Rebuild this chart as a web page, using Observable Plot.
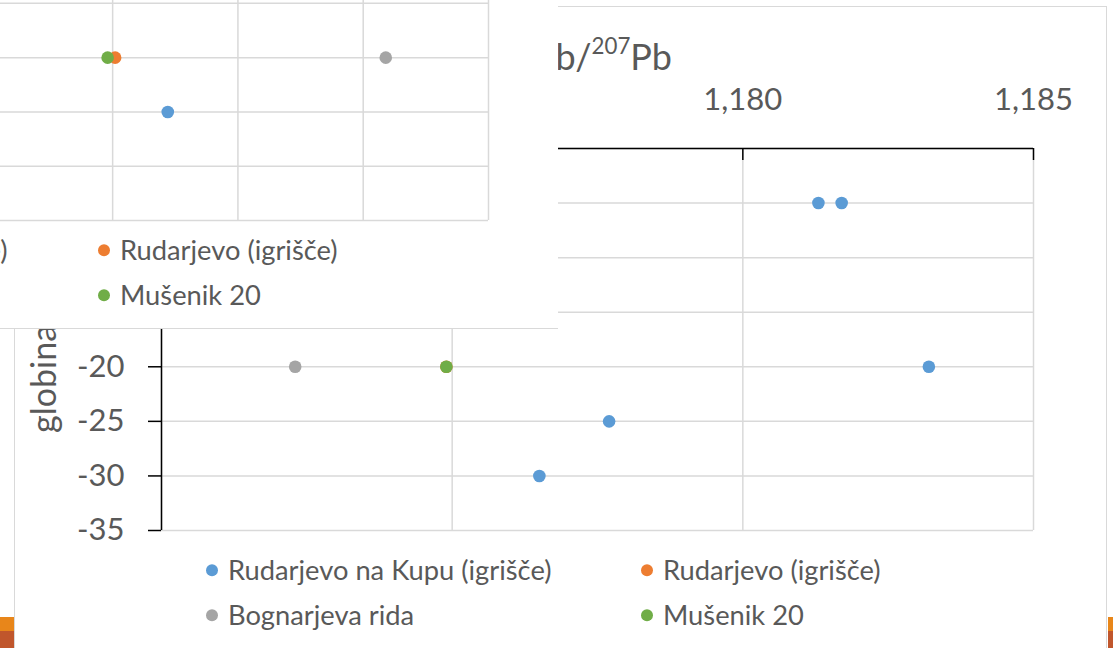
<!DOCTYPE html>
<html><head><meta charset="utf-8">
<script src="https://cdn.jsdelivr.net/npm/d3@7"></script>
<script src="https://cdn.jsdelivr.net/npm/@observablehq/plot@0.6"></script>
<style>
html,body{margin:0;padding:0;background:#fff;}
#page{position:relative;width:1113px;height:648px;overflow:hidden;font-family:Lato,"Open Sans",sans-serif;color:#595959;}
.abs{position:absolute;}
.legend-item{position:absolute;display:flex;align-items:center;white-space:nowrap;font-size:27.3px;line-height:1;transform:translateY(-50%);}
.legend-dot{width:12px;height:12px;border-radius:50%;margin-right:10px;flex:none;}
#inset{position:absolute;left:0;top:0;width:558px;height:328px;background:#fff;border-bottom:1.5px solid #d9d9d9;overflow:hidden;}
#title sup{font-size:0.62em;vertical-align:baseline;position:relative;top:-0.7em;}
svg{max-width:none !important;}
</style></head><body><div id="page"></div>
<script>
// ---- data ----
const seriesNames = ["Rudarjevo na Kupu (igrišče)", "Rudarjevo (igrišče)", "Bognarjeva rida", "Mušenik 20"];
const seriesColors = ["#5B9BD5", "#ED7D31", "#A5A5A5", "#70AD47"];
const depthTicks = [-35, -30, -25, -20, -15, -10, -5, 0];
const ratioTicks = [1.170, 1.175, 1.180, 1.185];
const yTitle = "globina (cm)";

// main chart: 206Pb/207Pb vs depth
const kupuRatio = [1.1765, 1.1777, 1.1813, 1.1817, 1.1832];
const kupuDepth = [-30, -25, -5, -5, -20];
const igrisceRatio = [1.1749];
const igrisceDepth = [-20];
const bognarRatio = [1.1723];
const bognarDepth = [-20];
const musenikRatio = [1.1749];
const musenikDepth = [-20];

// inset chart (second ratio, partially visible)
const ratio2Ticks = [2.060, 2.065, 2.070, 2.075, 2.080, 2.085, 2.090, 2.095];
const kupu2Ratio = [2.0822];
const kupu2Depth = [-25];
const igrisce2Ratio = [2.0801];
const igrisce2Depth = [-20];
const bognar2Ratio = [2.0909];
const bognar2Depth = [-20];
const musenik2Ratio = [2.0798];
const musenik2Depth = [-20];

function rows(name, xs, ys) { return xs.map((x, i) => ({series: name, ratio: x, depth: ys[i]})); }
const mainPoints = [
  ...rows(seriesNames[0], kupuRatio, kupuDepth),
  ...rows(seriesNames[1], igrisceRatio, igrisceDepth),
  ...rows(seriesNames[2], bognarRatio, bognarDepth),
  ...rows(seriesNames[3], musenikRatio, musenikDepth)
];
const insetPoints = [
  ...rows(seriesNames[0], kupu2Ratio, kupu2Depth),
  ...rows(seriesNames[1], igrisce2Ratio, igrisce2Depth),
  ...rows(seriesNames[2], bognar2Ratio, bognar2Depth),
  ...rows(seriesNames[3], musenik2Ratio, musenik2Depth)
];

const page = document.getElementById("page");
function box(css) { const d = document.createElement("div"); d.className = "abs"; d.style.cssText = css; page.appendChild(d); return d; }

// slide background strips
box("left:0;top:617px;width:14px;height:14px;background:#E8861A;");
box("left:0;top:631px;width:14px;height:17px;background:#C0562C;");
box("left:1108px;top:617px;width:5px;height:14px;background:#E8861A;");
box("left:1108px;top:631px;width:5px;height:17px;background:#C0562C;");
// main chart frame
box("left:14px;top:6px;width:1093px;height:660px;border:1.5px solid #d9d9d9;background:#fff;box-sizing:border-box;");

const grid = {stroke: "#d9d9d9", strokeOpacity: 1, strokeWidth: 1.5};
const fmt = d => d.toFixed(3).replace(".", ",");

const main = Plot.plot({
  width: 1113, height: 648,
  marginLeft: 161, marginRight: 80, marginTop: 148, marginBottom: 118,
  style: {background: "transparent", fontFamily: "Lato, sans-serif", color: "#595959", overflow: "visible"},
  x: {domain: [ratioTicks[0], ratioTicks[ratioTicks.length - 1]]},
  y: {domain: [depthTicks[0], depthTicks[depthTicks.length - 1]]},
  color: {domain: seriesNames, range: seriesColors},
  marks: [
    Plot.gridX(ratioTicks, grid),
    Plot.gridY(depthTicks, grid),
    Plot.ruleX([ratioTicks[0]], {stroke: "#000", strokeWidth: 1.5}),
    Plot.ruleY([0], {stroke: "#000", strokeWidth: 1.5}),
    Plot.tickX(ratioTicks, {stroke: "#000", strokeWidth: 1.5, insetBottom: 370}),
    Plot.axisX(ratioTicks, {anchor: "top", tickSize: 0, tickPadding: 39, tickFormat: fmt, fontSize: 31, fill: "#595959", label: null}),
    Plot.axisY(depthTicks, {anchor: "left", tickSize: 13, tickPadding: 24, tickFormat: d => String(d), fontSize: 31, stroke: "#000", strokeWidth: 1.5, fill: "#595959", label: null}),
    Plot.dot(mainPoints, {x: "ratio", y: "depth", fill: "series", r: 6.3})
  ]
});
main.style.position = "absolute"; main.style.left = "0px"; main.style.top = "0px";
page.appendChild(main);

// axis titles
const title = box("right:441px;top:38px;font-size:36px;line-height:1;white-space:nowrap;");
title.id = "title";
title.innerHTML = "<sup>206</sup>Pb/<sup>207</sup>Pb";
const yt = box("left:26px;top:433px;font-size:34px;line-height:1;white-space:nowrap;transform-origin:0 0;transform:rotate(-90deg);");
yt.textContent = yTitle;

function legend(parent, cols, rowsY) {
  seriesNames.forEach((name, i) => {
    const it = document.createElement("div");
    it.className = "legend-item";
    it.style.left = cols[i % 2] + "px";
    it.style.top = rowsY[Math.floor(i / 2)] + "px";
    it.innerHTML = `<span class="legend-dot" style="background:${seriesColors[i]}"></span><span>${name}</span>`;
    parent.appendChild(it);
  });
}
legend(page, [206, 641], [570, 615]);

// inset (overlapping second chart)
const inset = document.createElement("div");
inset.id = "inset";
page.appendChild(inset);
const insetPlot = Plot.plot({
  width: 897, height: 400, margin: 10,
  style: {background: "transparent", overflow: "visible", maxWidth: "none"},
  x: {domain: [ratio2Ticks[0], ratio2Ticks[ratio2Ticks.length - 1]], axis: null},
  y: {domain: [depthTicks[0], depthTicks[depthTicks.length - 1]], axis: null},
  color: {domain: seriesNames, range: seriesColors},
  marks: [
    Plot.gridX(ratio2Ticks, grid),
    Plot.gridY(depthTicks, grid),
    Plot.dot(insetPoints, {x: "ratio", y: "depth", fill: "series", r: 6.3})
  ]
});
insetPlot.style.position = "absolute"; insetPlot.style.left = "-399px"; insetPlot.style.top = "-170px";
insetPlot.style.maxWidth = "none";
inset.appendChild(insetPlot);
legend(inset, [-338, 98], [250, 295]);
</script></body></html>
